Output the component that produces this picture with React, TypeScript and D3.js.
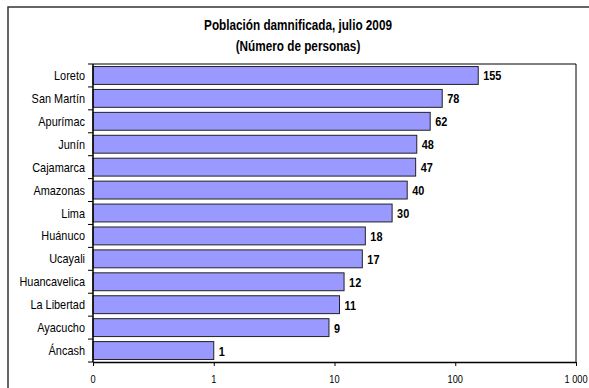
import { useEffect, useRef } from "react";
import * as d3 from "d3";

const regions = [
  "Loreto",
  "San Martín",
  "Apurímac",
  "Junín",
  "Cajamarca",
  "Amazonas",
  "Lima",
  "Huánuco",
  "Ucayali",
  "Huancavelica",
  "La Libertad",
  "Ayacucho",
  "Áncash",
];
const people = [155, 78, 62, 48, 47, 40, 30, 18, 17, 12, 11, 9, 1];
const tickValues = [0.1, 1, 10, 100, 1000];
const tickLabels = ["0", "1", "10", "100", "1 000"];

const W = 589;
const H = 388;
const FONT = "'Liberation Sans', Arial, sans-serif";
const NARROW = 0.84; // la fuente original es estrecha (Arial Narrow)

export default function App() {
  const svgRef = useRef<SVGSVGElement>(null);

  useEffect(() => {
    if (!svgRef.current) return;
    const svg = d3.select(svgRef.current);
    svg.selectAll("*").remove();

    const left = 93;
    const right = 576;
    const top = 64;
    const bottom = 362;

    // texto estrecho: se escala en x alrededor de su punto de anclaje
    const narrowText = (
      parent: any,
      tx: number,
      ty: number,
      label: string,
      size: number,
      anchor: string,
      bold = false,
    ) =>
      parent
        .append("text")
        .attr("transform", `translate(${tx},${ty}) scale(${NARROW},1)`)
        .attr("text-anchor", anchor)
        .style("font-family", FONT)
        .style("font-size", `${size}px`)
        .style("font-weight", bold ? "bold" : "normal")
        .attr("fill", "#000")
        .text(label);

    // marco exterior
    svg
      .append("rect")
      .attr("x", 8)
      .attr("y", 7)
      .attr("width", W + 10)
      .attr("height", H + 10)
      .attr("fill", "#fff")
      .attr("stroke", "#333")
      .attr("stroke-width", 1.5);

    // título
    narrowText(svg, 298, 30, "Población damnificada, julio 2009", 14, "middle", true);
    narrowText(svg, 298, 51, "(Número de personas)", 14, "middle", true);

    const x = d3.scaleLog().domain([0.1, 1000]).range([left, right]);
    const y = d3.scaleBand().domain(regions).range([top, bottom]).paddingInner(0.22).paddingOuter(0.11);
    const band = d3.scaleBand().domain(regions).range([top, bottom]);

    // borde del área de trazado
    svg
      .append("path")
      .attr("d", `M${left},${top}H${right}V${bottom}`)
      .attr("fill", "none")
      .attr("stroke", "#000")
      .attr("stroke-width", 1);

    // barras
    svg
      .selectAll(".bar")
      .data(people)
      .enter()
      .append("rect")
      .attr("class", "bar")
      .attr("x", left)
      .attr("y", (_d, i) => y(regions[i]) || 0)
      .attr("width", (d) => x(d) - left)
      .attr("height", y.bandwidth())
      .attr("fill", "#9999ff")
      .attr("stroke", "#222")
      .attr("stroke-width", 1);

    // etiquetas de valores
    people.forEach((d, i) => {
      narrowText(svg, x(d) + 5, (y(regions[i]) || 0) + y.bandwidth() / 2 + 5, String(d), 13, "start", true);
    });

    // eje Y
    const yAxis = svg.append("g");
    yAxis
      .append("line")
      .attr("x1", left)
      .attr("x2", left)
      .attr("y1", top)
      .attr("y2", bottom)
      .attr("stroke", "#000")
      .attr("stroke-width", 1.5);
    const boundaries = regions.map((r) => band(r) || 0).concat([bottom]);
    yAxis
      .selectAll(".ytick")
      .data(boundaries)
      .enter()
      .append("line")
      .attr("x1", left - 5)
      .attr("x2", left)
      .attr("y1", (d) => d)
      .attr("y2", (d) => d)
      .attr("stroke", "#000");
    regions.forEach((r) => {
      narrowText(yAxis, left - 8, (band(r) || 0) + band.bandwidth() / 2 + 4.5, r, 13, "end");
    });

    // eje X
    const xAxis = svg.append("g").attr("transform", `translate(0,${bottom})`);
    xAxis.call(
      d3
        .axisBottom(x)
        .tickValues(tickValues)
        .tickSize(4)
        .tickSizeOuter(0)
        .tickFormat(() => ""),
    );
    xAxis.select(".domain").attr("stroke", "#000").attr("stroke-width", 1.5);
    xAxis.selectAll(".tick line").attr("stroke", "#000");
    tickValues.forEach((v, i) => {
      narrowText(xAxis, x(v), 21, tickLabels[i], 11, "middle");
    });
  }, []);

  return (
    <svg
      ref={svgRef}
      width={W}
      height={H}
      viewBox={`0 0 ${W} ${H}`}
      style={{ position: "absolute", left: 0, top: 0, display: "block" }}
    />
  );
}
